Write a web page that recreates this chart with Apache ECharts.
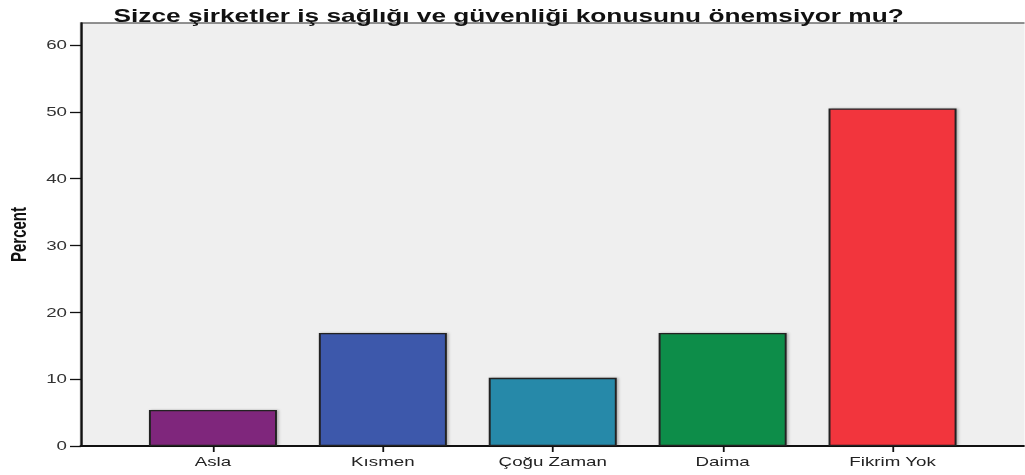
<!DOCTYPE html>
<html>
<head>
<meta charset="utf-8">
<script src="https://cdn.jsdelivr.net/npm/echarts@6/dist/echarts.min.js"></script>
<style>
  html, body { margin: 0; padding: 0; background: #fff; overflow: hidden; }
  /* kaynak grafik yatayda gerilmiş; aynısını yapmak için dar çizip yatay büyütüyoruz */
  #chart { width: 683.33px; height: 475px; transform: scaleX(1.5); transform-origin: 0 0; }
</style>
</head>
<body>
<div id="chart"></div>
<script>
// veriler
const categories = ['Asla', 'Kısmen', 'Çoğu Zaman', 'Daima', 'Fikrim Yok'];
const percents = [5.4, 16.9, 10.2, 16.9, 50.5];
const barColors = ['#7f287b', '#3d58ab', '#2789a9', '#0f8d48', '#f2353c'];
const titleText = 'Sizce şirketler iş sağlığı ve güvenliği konusunu önemsiyor mu?';

const SX = 1.5; // yatay gerilme oranı
const font = 'Liberation Sans, Arial, sans-serif';

const chart = echarts.init(document.getElementById('chart'), null, { renderer: 'svg' });

const option = {
  animation: false,
  title: {
    text: titleText,
    left: 106 / SX,
    top: 2,
    textStyle: { fontFamily: font, fontWeight: 'bold', fontSize: 17.5, color: '#111' }
  },
  grid: [
    // fon alanı (sağ kenar çizgisi görünmesin diye biraz taşırıyoruz)
    { left: 81 / SX, right: -2, top: 23, bottom: 29, outerBoundsMode: 'none', show: true,
      backgroundColor: '#efefef', borderColor: '#6e6e6e', borderWidth: 1.5 },
    // çubuklar
    { left: 128 / SX, right: 47 / SX, top: 23, bottom: 29, outerBoundsMode: 'none' }
  ],
  xAxis: [
    {
      gridIndex: 0, type: 'category', data: [''],
      axisLine: { lineStyle: { color: '#111', width: 2 } },
      axisTick: { show: false }, axisLabel: { show: false }
    },
    {
      gridIndex: 1, type: 'category', data: categories,
      axisLine: { show: false },
      axisTick: { show: true, alignWithLabel: true, length: 6, lineStyle: { color: '#111', width: 1.2 } },
      axisLabel: { fontFamily: font, fontSize: 12.5, color: '#222', margin: 9 }
    }
  ],
  yAxis: [
    { gridIndex: 0, type: 'value', min: 0, max: 63.3, show: false },
    {
      gridIndex: 1, type: 'value', min: 0, max: 63.3, interval: 10, offset: 47 / SX,
      name: 'Percent', nameLocation: 'middle', nameGap: 33, nameRotate: 90,
      nameTextStyle: { fontFamily: font, fontWeight: 'bold', fontSize: 15, color: '#111' },
      axisLine: { show: true, lineStyle: { color: '#111', width: 1.3 } },
      axisTick: { show: true, length: 11 / SX, lineStyle: { color: '#111', width: 1.3 } },
      axisLabel: { fontFamily: font, fontSize: 12.5, color: '#333', margin: 14 / SX, showMaxLabel: false },
      splitLine: { show: false }
    }
  ],
  series: [{
    type: 'bar',
    xAxisIndex: 1, yAxisIndex: 1,
    barWidth: 128 / SX,
    data: percents.map((v, i) => ({
      value: v,
      itemStyle: { color: barColors[i] }
    })),
    itemStyle: {
      borderColor: '#222', borderWidth: 1.3,
      shadowColor: 'rgba(0,0,0,0.3)', shadowBlur: 2, shadowOffsetX: 1
    }
  }]
};

chart.setOption(option);
</script>
</body>
</html>
